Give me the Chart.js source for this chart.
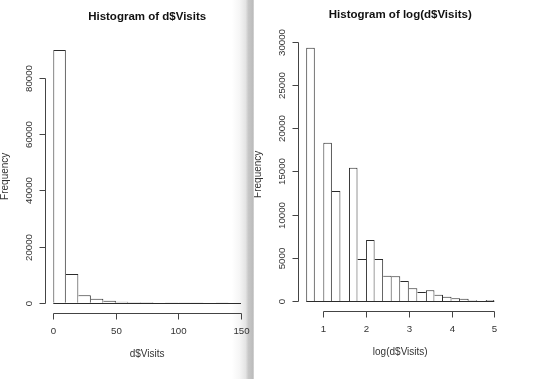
<!DOCTYPE html>
<html>
<head>
<meta charset="utf-8">
<script src="https://cdn.jsdelivr.net/npm/chart.js@4.4.0/dist/chart.umd.min.js"></script>
<style>
  html, body { margin: 0; padding: 0; background: #fff; width: 540px; height: 379px; overflow: hidden; }
  body { position: relative; }
  #shade { position: absolute; left: 232px; top: 0; width: 22px; height: 379px; z-index: 1;
           background: linear-gradient(to right, #fff 0%, #f5f5f5 35%, #e4e4e4 62%, #c8c8c8 74%, #bcbcbc 94%, #dadada 100%); }
  #visits { position: absolute; left: 0; top: 0; z-index: 2; }
  #logVisits { position: absolute; left: 254px; top: 0; z-index: 2; }
</style>
</head>
<body>
<div id="shade"></div>
<canvas id="visits" width="252" height="379"></canvas>
<canvas id="logVisits" width="286" height="379"></canvas>

<script>
// ── Data: left histogram (d$Visits, bins of 10) ──────────────────────────────
const visitBreaks = [0, 10, 20, 30, 40, 50, 60, 70, 80, 90, 100, 110, 120, 130, 140, 150];
const visitCounts = [90000, 10200, 2630, 1420, 710, 340, 190, 130, 70, 45, 35, 25, 20, 25, 15];
const visitTicksX = [0, 50, 100, 150];
const visitTicksY = [0, 20000, 40000, 60000, 80000];

// ── Data: right histogram (log(d$Visits), bins of 0.2) ───────────────────────
const logBreaks = [0.6, 0.8, 1.0, 1.2, 1.4, 1.6, 1.8, 2.0, 2.2, 2.4, 2.6, 2.8,
                   3.0, 3.2, 3.4, 3.6, 3.8, 4.0, 4.2, 4.4, 4.6, 4.8, 5.0];
const logCounts = [29320, 0, 18320, 12730, 0, 15430, 4860, 7060, 4860, 2930, 2850,
                   2310, 1470, 1040, 1230, 730, 500, 310, 270, 80, 30, 120];
const logTicksX = [1, 2, 3, 4, 5];
const logTicksY = [0, 5000, 10000, 15000, 20000, 25000, 30000];

const INK  = "#2b2b2b";
const FONT = "'Liberation Sans', Arial, Helvetica, sans-serif";

// R draws each rect fully; shared edges should be a single line, so the taller
// neighbour owns the edge between two bars.
function edges(ctx, counts) {
    const i = ctx.dataIndex, h = counts[i];
    const prev = i > 0 ? counts[i - 1] : -1;
    const next = i < counts.length - 1 ? counts[i + 1] : -1;
    return { top: 1, bottom: 0, left: h >= prev ? 1 : 0, right: h > next ? 1 : 0 };
}

// ── R-style axes, labels and titles ──────────────────────────────────────────
function rAxes(o) {
    return {
        id: "raxes",
        afterDraw(chart) {
            const { ctx, chartArea: a } = chart;
            const x = chart.scales.x, y = chart.scales.y;
            const line = (x1, y1, x2, y2) => { ctx.beginPath(); ctx.moveTo(x1, y1); ctx.lineTo(x2, y2); ctx.stroke(); };
            ctx.save();
            ctx.strokeStyle = INK;
            ctx.lineWidth = 1;

            // bottom edges of the bins
            const y0 = Math.round(y.getPixelForValue(0)) + 0.5;
            line(x.getPixelForValue(o.breaks[0]), y0, x.getPixelForValue(o.breaks[o.breaks.length - 1]), y0);

            ctx.strokeStyle = "#444";
            ctx.fillStyle = "#333";
            ctx.font = "9.7px " + FONT;

            // x axis
            const xb = Math.round(a.bottom) + 0.5;
            const xs = o.ticksX.map(v => Math.round(x.getPixelForValue(v)) + 0.5);
            line(xs[0], xb, xs[xs.length - 1], xb);
            ctx.textAlign = "center";
            ctx.textBaseline = "middle";
            xs.forEach((px, i) => {
                line(px, xb, px, xb + 6);
                ctx.fillText(String(o.ticksX[i]), px, xb + 18);
            });

            // y axis
            const yl = Math.round(a.left) - 0.5;
            const ys = o.ticksY.map(v => Math.round(y.getPixelForValue(v)) + 0.5);
            line(yl, ys[0], yl, ys[ys.length - 1]);
            ys.forEach((py, i) => {
                line(yl, py, yl - 6, py);
                ctx.save();
                ctx.translate(yl - 16.5, py);
                ctx.rotate(-Math.PI / 2);
                ctx.fillText(String(o.ticksY[i]), 0, 0);
                ctx.restore();
            });

            // axis titles
            const cx = (a.left + a.right) / 2, cy = (a.top + a.bottom) / 2;
            ctx.font = "10px " + FONT;
            ctx.fillText(o.xTitle, cx, xb + 41);
            ctx.save();
            ctx.translate(yl - 40, cy);
            ctx.rotate(-Math.PI / 2);
            ctx.fillText("Frequency", 0, 0);
            ctx.restore();

            // main title
            ctx.fillStyle = "#111";
            ctx.font = "bold 11.5px " + FONT;
            ctx.fillText(o.title, cx, o.titleY);
            ctx.restore();
        }
    };
}

// ── Histogram builder ────────────────────────────────────────────────────────
function histogram(id, o) {
    const pts = o.counts.map((c, i) => ({ x: (o.breaks[i] + o.breaks[i + 1]) / 2, y: c }));
    const lo = o.breaks[0], hi = o.breaks[o.breaks.length - 1];
    const xr = hi - lo;
    const top = Math.max(...o.counts);

    return new Chart(document.getElementById(id), {
        type: "bar",
        data: {
            datasets: [{
                data: pts,
                backgroundColor: "#fff",
                borderColor: INK,
                borderWidth: ctx => edges(ctx, o.counts),
                borderSkipped: false,
                barPercentage: 1,
                categoryPercentage: 1,
                inflateAmount: 0,
            }],
        },
        options: {
            responsive: false,
            animation: false,
            events: [],
            layout: { padding: o.pad },
            plugins: { legend: { display: false }, tooltip: { enabled: false } },
            scales: {
                x: {
                    type: "linear", display: false, offset: false,
                    min: lo - 0.04 * xr, max: hi + 0.04 * xr,
                    afterBuildTicks: s => { s.ticks = o.ticksX.map(v => ({ value: v })); },
                },
                y: {
                    type: "linear", display: false,
                    min: -0.04 * top, max: 1.04 * top,
                },
            },
        },
        plugins: [rAxes(o)],
    });
}

histogram("visits", {
    breaks: visitBreaks, counts: visitCounts,
    ticksX: visitTicksX, ticksY: visitTicksY,
    title: "Histogram of d$Visits", xTitle: "d$Visits", titleY: 16.5,
    pad: { left: 45.8, right: 3.5, top: 39.8, bottom: 66.2 },
});

histogram("logVisits", {
    breaks: logBreaks, counts: logCounts,
    ticksX: logTicksX, ticksY: logTicksY,
    title: "Histogram of log(d$Visits)", xTitle: "log(d$Visits)", titleY: 15,
    pad: { left: 44.7, right: 38.2, top: 37.5, bottom: 67.9 },
});
</script>
</body>
</html>
